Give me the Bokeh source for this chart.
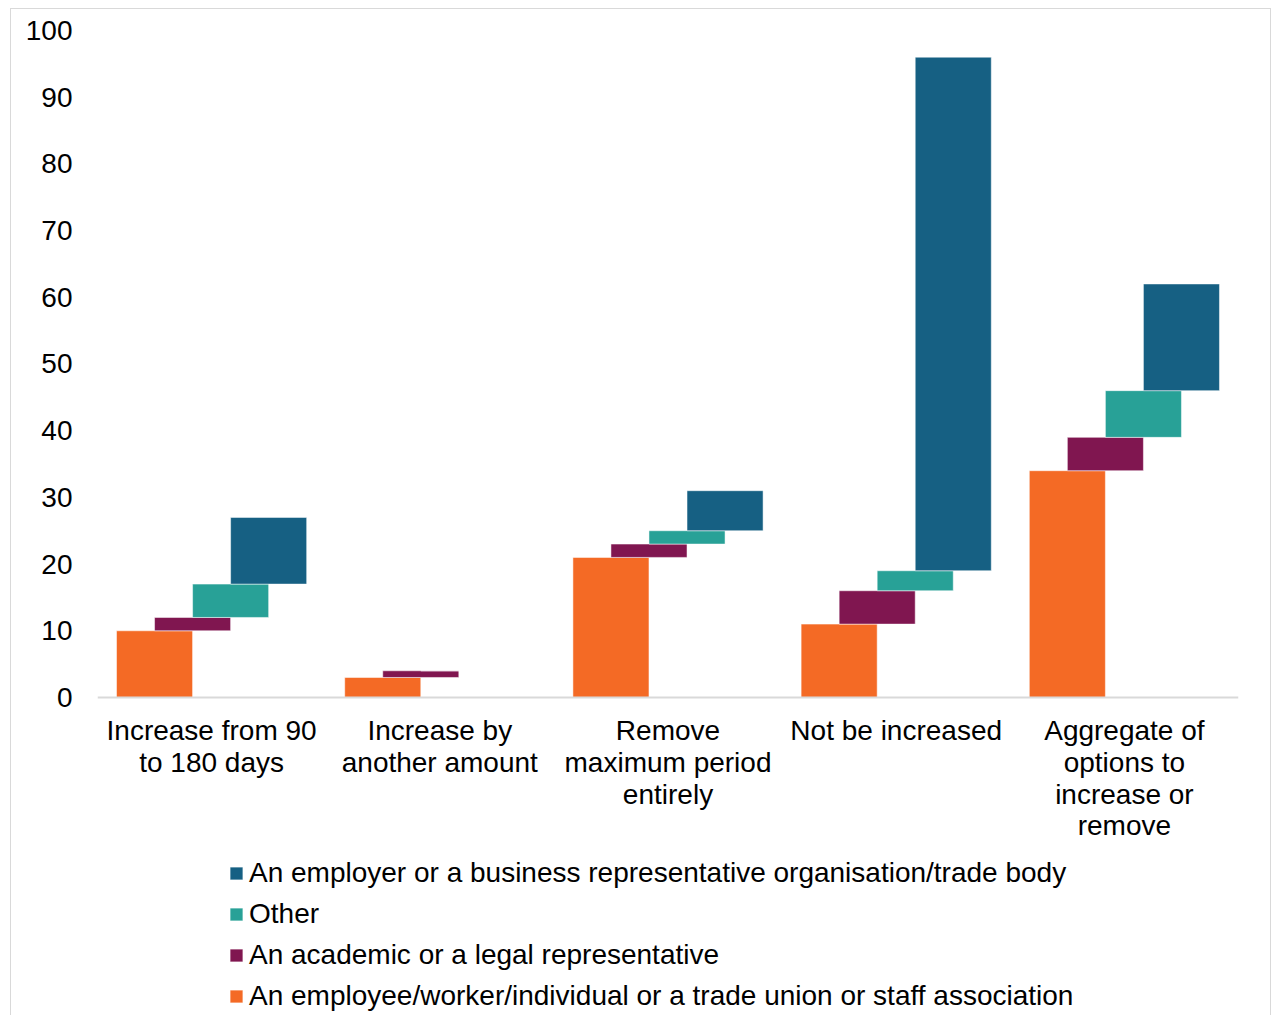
from bokeh.plotting import figure
from bokeh.models import Range1d, FactorRange, FixedTicker, Legend, LegendItem, ColumnDataSource, Span
from bokeh.transform import dodge
from bokeh.core.properties import value
from bokeh.embed import file_html
from bokeh.resources import INLINE

categories = ["Increase from 90\nto 180 days", "Increase by\nanother amount", "Remove\nmaximum period\nentirely",
              "Not be increased", "Aggregate of\noptions to\nincrease or\nremove"]
employee = [10, 3, 21, 11, 34]
academic = [2, 1, 2, 5, 5]
other = [5, 0, 2, 3, 7]
employer = [10, 0, 6, 77, 16]
y_ticks = [0, 10, 20, 30, 40, 50, 60, 70, 80, 90, 100]

series = [
    ("An employee/worker/individual or a trade union or staff association", employee, "#F46A25", -0.25),
    ("An academic or a legal representative", academic, "#801650", -0.25 / 3),
    ("Other", other, "#28A197", 0.25 / 3),
    ("An employer or a business representative organisation/trade body", employer, "#166083", 0.25),
]

FONT = "Liberation Sans"
FS = "28px"

p = figure(width=1261, height=1011, x_range=FactorRange(factors=categories, range_padding=0),
           y_range=Range1d(-48.43, 100), output_backend="svg", toolbar_location=None,
           min_border_left=86, min_border_right=34, min_border_top=21, min_border_bottom=0)
p.margin = (8, 0, 0, 10)
p.styles = {"border": "1px solid #d9d9d9"}
p.outline_line_color = None
p.xgrid.visible = False
p.ygrid.visible = False
p.xaxis.visible = False

p.add_layout(Span(location=0, dimension="width", line_color="#d9d9d9", line_width=2))

bottom = [0] * len(categories)
renderers = []
for name, vals, color, off in series:
    top = [b + v for b, v in zip(bottom, vals)]
    src = ColumnDataSource(dict(cat=categories, bottom=bottom, top=top))
    r = p.vbar(x=dodge("cat", off, range=p.x_range), bottom="bottom", top="top", width=1 / 3,
               source=src, fill_color=color, line_color="white", line_alpha=0.5, line_width=1)
    renderers.append((name, r))
    bottom = top

lab = ColumnDataSource(dict(cat=categories, y=[-2.7] * len(categories)))
p.text(x="cat", y="y", text="cat", source=lab, text_font=value(FONT), text_font_size=FS,
       text_color="#000000", text_align="center", text_baseline="top", text_line_height=1.02)

p.yaxis.ticker = FixedTicker(ticks=y_ticks)
p.yaxis.axis_line_color = None
p.yaxis.major_tick_line_color = None
p.yaxis.minor_tick_line_color = None
p.yaxis.major_tick_out = 0
p.yaxis.major_tick_in = 0
p.yaxis.major_label_standoff = 25
p.yaxis.major_label_text_font = FONT
p.yaxis.major_label_text_font_size = FS
p.yaxis.major_label_text_color = "#000000"

items = [LegendItem(label=n, renderers=[r]) for n, r in reversed(renderers)]
legend = Legend(items=items, location=(131, 4), orientation="vertical",
                label_text_font=FONT, label_text_font_size=FS, label_text_color="#000000",
                glyph_width=16, glyph_height=16, label_standoff=5, label_height=41, spacing=0,
                padding=0, margin=0, border_line_color=None, background_fill_alpha=0)
p.add_layout(legend, "center")

open("out.html", "w").write(file_html(p, INLINE))
